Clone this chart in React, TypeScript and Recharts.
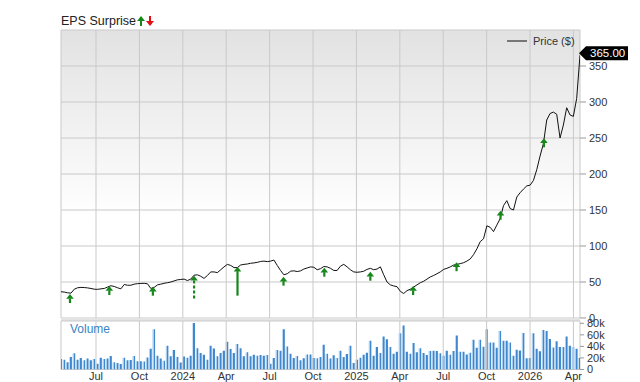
import React from 'react';
import {
  ComposedChart,
  Line,
  Bar,
  XAxis,
  YAxis,
  ReferenceLine,
  ReferenceArea,
  ReferenceDot,
} from 'recharts';

// x positions are months counted from Jan 2023, one point per week
const START_MONTH = 3.58;
const WEEK = 7 / 30.44;

const priceValues = [
  36.5, 36, 35, 34.5, 40, 42, 42.5, 42.3, 41.8, 41,
  40, 39.8, 40.5, 41, 43, 44.8, 43.8, 42, 40.5, 46.5,
  45.5, 45.5, 47, 47.7, 48, 48.2, 47.5, 41, 42.5, 46,
  47, 48.2, 49, 50, 51.5, 53, 53.5, 54, 52, 54,
  59.5, 60, 58, 55, 59, 64, 64, 63, 67, 71,
  74.5, 73, 70, 70, 73.6, 74.5, 75, 76, 76.5, 77.3,
  78.5, 79, 78.3, 79, 80.5, 73, 66, 60, 61.5, 65,
  65.5, 64.5, 65.5, 68, 69.5, 71, 70.5, 67, 68.5, 71.5,
  71, 69, 66, 66, 72, 74.5, 71, 67, 64, 63.5,
  64, 65, 67.5, 69, 67, 68, 71, 60, 50, 46,
  44.5, 43.5, 37, 34, 38, 40, 43, 46, 49, 51,
  54, 57, 59, 61.5, 64, 67.5, 69, 71, 73.5, 74.5,
  75.5, 76.8, 79, 82, 88, 96, 106, 110, 128, 126,
  120, 129, 138, 156, 163, 152, 150, 168, 174, 179,
  183.5, 184.5, 191, 206, 225, 242, 275, 284, 286, 283,
  250, 268, 292, 282, 280, 305, 365,
];

// weekly volume, thousands
const volumeValues = [
  18, 17, 12.6, 21.7, 28, 17, 20, 16, 19, 16,
  18, 10, 20.5, 18, 19, 23.4, 12.6, 11.4, 9.7, 20.5,
  16, 16.6, 23.4, 14.3, 14.3, 13.7, 21, 36, 69.7, 24,
  19, 15, 41, 22.8, 33.7, 21.7, 12, 22.3, 20.5, 24,
  80.5, 37, 28.5, 25.7, 17, 41, 36.5, 22.8, 28.5, 32.5,
  48, 35.4, 28.5, 44, 37, 22.8, 29.7, 22.8, 25.7, 24,
  25, 24, 25, 10, 20, 33.7, 32.5, 69.7, 40, 27.4,
  20, 23.4, 16, 19.4, 26, 26, 20, 19.4, 21.7, 43,
  27.4, 19, 24.5, 20, 32.5, 21.7, 27, 41, 11.4, 17,
  20.5, 25.7, 29, 50, 24, 39, 28.5, 57, 52.5, 39,
  27.4, 30.8, 63, 76, 30.8, 27.4, 45.7, 30, 37, 28.5,
  25, 32, 32.5, 32, 28, 24, 32.5, 25.7, 32, 59,
  30.8, 30.8, 26, 29, 51.4, 37.7, 51.4, 39.4, 69.7, 46.8,
  46.8, 37.7, 66.8, 49.7, 49.7, 46.8, 24, 34.3, 33, 63.4,
  19.4, 20, 63, 36, 31.4, 68.5, 66.8, 53, 38, 49,
  39, 39, 57, 41, 39, 36, 20,
];

const monthTicks = [6, 9, 12, 15, 18, 21, 24, 27, 30, 33, 36, 39];
const monthLabels = ['Jul', 'Oct', '2024', 'Apr', 'Jul', 'Oct', '2025', 'Apr', 'Jul', 'Oct', '2026', 'Apr'];
const priceTicks = [0, 50, 100, 150, 200, 250, 300, 350];
const volumeTicks = [0, 20, 40, 60, 80];

// quarterly EPS beats: report month and price where the arrow sits
const epsMonths = [4.2, 6.92, 9.93, 12.78, 15.78, 18.96, 21.78, 24.96, 27.92, 30.92, 33.96, 36.96];
const epsPrices = [33.3, 44.4, 43.5, 58.8, 71.3, 57.4, 69.9, 64.3, 44.4, 77.5, 149, 249.6];

const weekly = priceValues.map((p, i) => ({
  m: START_MONTH + i * WEEK,
  price: p,
  volume: volumeValues[i],
}));
const X_DOMAIN: [number, number] = [START_MONTH, START_MONTH + (priceValues.length - 1) * WEEK];
const last = weekly[weekly.length - 1];

const FONT = '"Liberation Sans", Arial, sans-serif';
const GRID = '#c9c9c9';
const GREEN = '#17871b';

// stem length per arrow (px); two of them are drawn long
const stemFor = (i: number) => (i === 3 ? 19.5 : i === 4 ? 24.5 : 4.5);

const UpArrow = (props: any) => {
  const { cx, cy, idx } = props;
  const stem = stemFor(idx);
  return (
    <g>
      <polygon points={`${cx},${cy} ${cx + 3.8},${cy + 4.8} ${cx - 3.8},${cy + 4.8}`} fill={GREEN} />
      {idx === 3 ? (
        <line x1={cx} x2={cx} y1={cy + 4.8} y2={cy + 4.8 + stem} stroke={GREEN} strokeWidth={2.2} strokeDasharray="3 2" />
      ) : (
        <rect x={cx - 1.1} y={cy + 4.5} width={2.2} height={stem} fill={GREEN} />
      )}
    </g>
  );
};

const PriceTag = (props: any) => {
  const { cx, cy } = props;
  const c = cy - 2;
  return (
    <g>
      <path d={`M${cx - 1},${c} L${cx + 6},${c - 7} L${cx + 48},${c - 7} L${cx + 48},${c + 7} L${cx + 6},${c + 7} Z`} fill="#000" />
      <text x={cx + 10} y={c + 4} fill="#fff" fontSize={11.5} fontFamily={FONT}>
        {last.price.toFixed(2)}
      </text>
    </g>
  );
};

export default function App() {
  return (
    <div style={{ position: 'absolute', left: 0, top: 0, width: 640, height: 382, background: '#fff', fontFamily: FONT }}>
      <div style={{ position: 'absolute', left: 61, top: 14, fontSize: 12.5, color: '#222', display: 'flex', alignItems: 'center' }}>
        <span>EPS Surprise</span>
        <svg width={18} height={12} style={{ marginLeft: 1 }}>
          <polygon points="4,1 8,6 0,6" fill={GREEN} />
          <rect x={3} y={6} width={2} height={5} fill={GREEN} />
          <polygon points="13,11 17,6 9,6" fill="#e01010" />
          <rect x={12} y={1} width={2} height={5} fill="#e01010" />
        </svg>
      </div>

      <div style={{ position: 'absolute', left: 0, top: 0 }}>
        <ComposedChart width={640} height={330} data={weekly} margin={{ top: 30, right: 0, bottom: 12, left: 61 }}>
          <defs>
            <linearGradient id="bgFade" x1="0" y1="0" x2="0" y2="1">
              <stop offset="0" stopColor="#e2e2e2" />
              <stop offset="0.65" stopColor="#ffffff" />
            </linearGradient>
          </defs>
          <XAxis dataKey="m" type="number" domain={X_DOMAIN} hide allowDataOverflow />
          <YAxis
            orientation="right"
            width={60}
            domain={[0, 400]}
            ticks={priceTicks}
            interval={0}
            axisLine={false}
            tickSize={6}
            tickMargin={3}
            tickLine={{ stroke: '#999' }}
            tick={{ fontSize: 11, fill: '#333', fontFamily: FONT }}
            allowDataOverflow
          />
          <ReferenceArea x1={X_DOMAIN[0]} x2={X_DOMAIN[1]} y1={0} y2={400} fill="url(#bgFade)" fillOpacity={1} stroke={GRID} />
          {priceTicks.slice(1).map((v) => (
            <ReferenceLine key={`h${v}`} y={v} stroke={GRID} />
          ))}
          {monthTicks.map((t) => (
            <ReferenceLine key={`v${t}`} x={t} stroke={GRID} />
          ))}
          <Line type="linear" dataKey="price" stroke="#111" strokeWidth={1} dot={false} isAnimationActive={false} />
          {epsMonths.map((m, i) => (
            <ReferenceDot key={`e${i}`} x={m} y={epsPrices[i]} r={0} shape={(p: any) => <UpArrow {...p} idx={i} />} />
          ))}
          <ReferenceDot x={last.m} y={last.price} r={0} shape={(p: any) => <PriceTag {...p} />} />
        </ComposedChart>
      </div>

      <div style={{ position: 'absolute', left: 507, top: 35, display: 'flex', alignItems: 'center', fontSize: 11, color: '#333' }}>
        <span style={{ display: 'inline-block', width: 20, height: 2.5, background: '#777', marginRight: 6 }} />
        <span>Price ($)</span>
      </div>

      <div style={{ position: 'absolute', left: 61, top: 318, width: 519, height: 3, background: '#e4e4e4' }} />

      <div style={{ position: 'absolute', left: 0, top: 316 }}>
        <ComposedChart width={640} height={66} data={weekly} margin={{ top: 5, right: 0, bottom: 0, left: 61 }}>
          <defs>
            <linearGradient id="volFill" x1="0" y1="0" x2="1" y2="0">
              <stop offset="0" stopColor="#a9cdee" />
              <stop offset="0.4" stopColor="#a9cdee" />
              <stop offset="0.4" stopColor="#3f88cd" />
              <stop offset="1" stopColor="#3f88cd" />
            </linearGradient>
          </defs>
          <XAxis
            dataKey="m"
            type="number"
            domain={X_DOMAIN}
            ticks={monthTicks}
            tickFormatter={(v: number) => monthLabels[monthTicks.indexOf(v)] ?? ''}
            height={12.5}
            axisLine={false}
            tickLine={false}
            tickSize={0}
            tickMargin={3}
            tick={{ fontSize: 11, fill: '#333', fontFamily: FONT }}
            interval={0}
            allowDataOverflow
          />
          <YAxis
            orientation="right"
            width={60}
            domain={[0, 84]}
            ticks={volumeTicks}
            interval={0}
            tickFormatter={(v: number) => (v === 0 ? '0' : `${v}k`)}
            axisLine={false}
            tickSize={4}
            tickMargin={3}
            tickLine={{ stroke: '#999' }}
            tick={{ fontSize: 11, fill: '#333', fontFamily: FONT }}
            allowDataOverflow
          />
          <ReferenceArea x1={X_DOMAIN[0]} x2={X_DOMAIN[1]} y1={0} y2={84} fill="#fff" fillOpacity={1} stroke={GRID} />
          {monthTicks.map((t) => (
            <ReferenceLine key={`vv${t}`} x={t} stroke={GRID} />
          ))}
          <Bar dataKey="volume" barSize={2.6} fill="url(#volFill)" isAnimationActive={false} />
        </ComposedChart>
      </div>

      <div style={{ position: 'absolute', left: 70, top: 322, fontSize: 12, color: '#3a84c4' }}>Volume</div>
    </div>
  );
}
